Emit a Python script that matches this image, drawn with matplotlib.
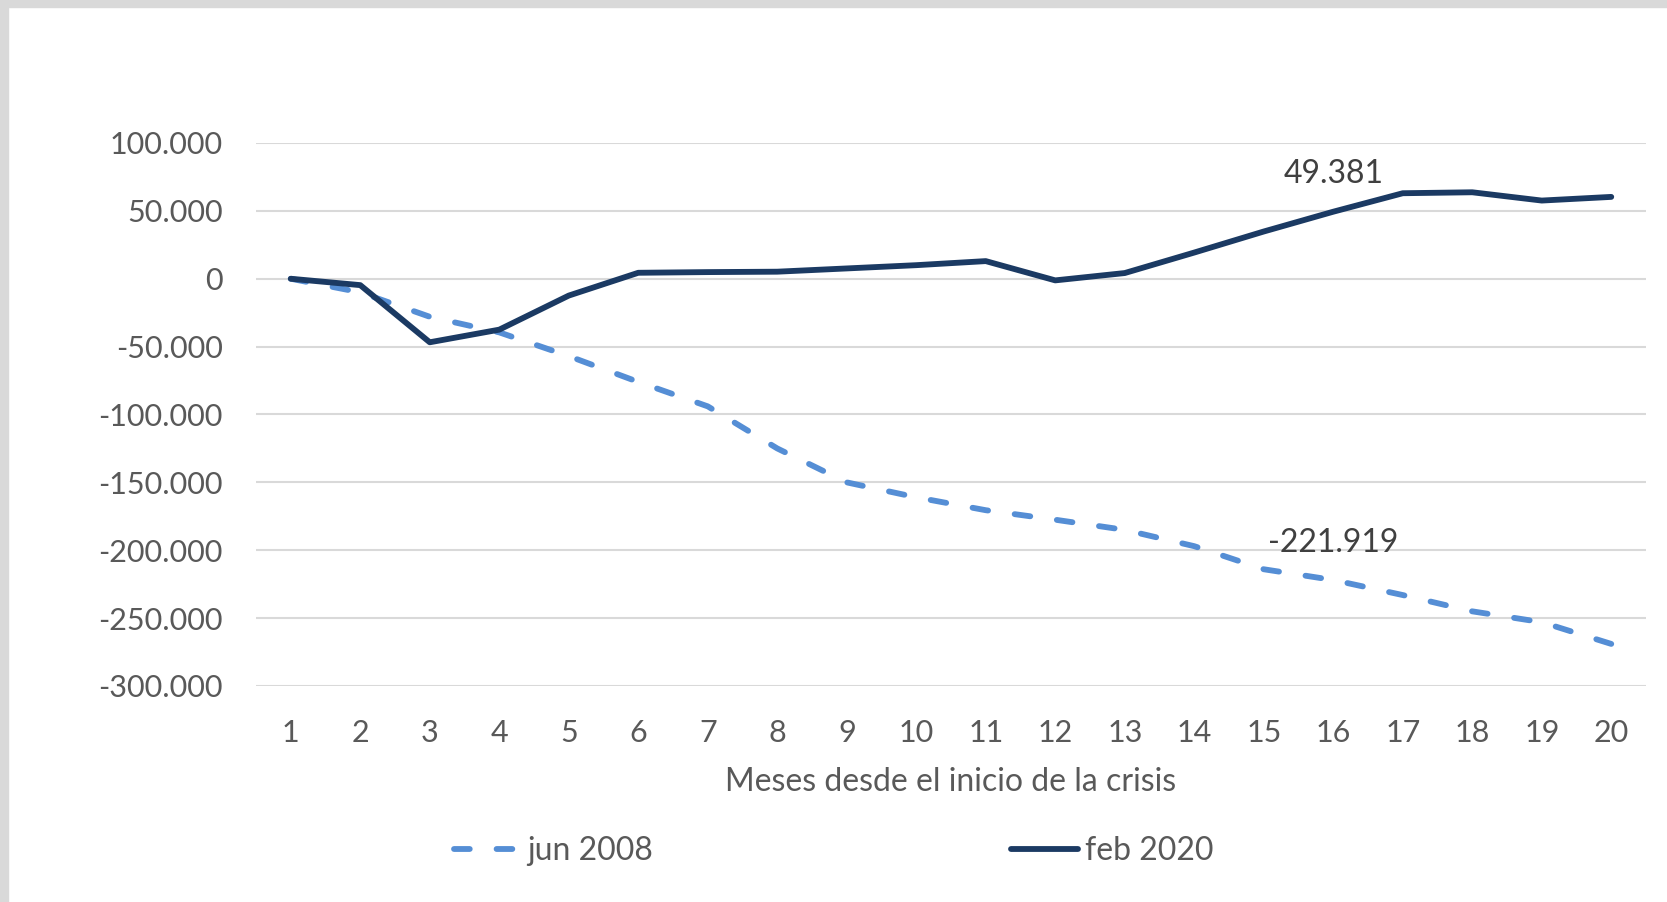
import matplotlib
matplotlib.use('Agg')
import matplotlib.pyplot as plt
import matplotlib.ticker as ticker
from matplotlib.patches import Rectangle

plt.rcParams['font.family'] = ['Lato', 'DejaVu Sans']

# months since start of crisis
months = list(range(1, 21))

# change in employment vs. start month
jun_2008 = [0, -10000, -28000, -39500, -57000, -76000, -94000, -125000, -150000, -161000,
            -170500, -177500, -185000, -197000, -214000, -221919, -233000, -245000, -253000, -269000]
feb_2020 = [0, -4700, -46800, -37500, -12400, 4400, 4900, 5200, 7600, 10000,
            13000, -1200, 4200, 19300, 34800, 49381, 63000, 63700, 57600, 60300]

label_idx = 15  # month 16 carries the data labels

y_ticks = [100000, 50000, 0, -50000, -100000, -150000, -200000, -250000, -300000]

W, H = 1667, 902
fig = plt.figure(figsize=(W / 100, H / 100), dpi=100)

# grey frame strips (top and left), as in the source screenshot
fig.patches.append(Rectangle((0, 1 - 7 / H), 1, 7 / H, transform=fig.transFigure,
                             color='#d9d9d9', zorder=0))
fig.patches.append(Rectangle((0, 0), 8 / W, 1, transform=fig.transFigure,
                             color='#d9d9d9', zorder=0))

ax = fig.add_axes([256 / W, 1 - 686 / H, (1646 - 256) / W, (686 - 143) / H])

light = '#558ED5'
dark = '#1B3A63'
txt = '#595959'

ax.plot(months, jun_2008, color=light, linewidth=4.2, dashes=(2.7, 4.6),
        dash_capstyle='round', dash_joinstyle='round', label='jun 2008', zorder=3)
ax.plot(months, feb_2020, color=dark, linewidth=4.2, solid_capstyle='round',
        solid_joinstyle='round', label='feb 2020', zorder=4)

fmt = lambda v: '{:,.0f}'.format(v).replace(',', '.')

for series in (feb_2020, jun_2008):
    ax.annotate(fmt(series[label_idx]), (months[label_idx], series[label_idx]),
                xytext=(0, 27), textcoords='offset points', ha='center', va='center',
                fontsize=23, color='#404040')

ax.set_xlim(0.5, 20.5)
ax.set_ylim(-300000, 100000)
ax.set_yticks(y_ticks)
ax.set_xticks(months)
ax.yaxis.set_major_formatter(ticker.FuncFormatter(lambda v, p: fmt(v)))
ax.grid(True, axis='y', color='#d9d9d9', linewidth=1.5)
ax.set_axisbelow(True)
for s in ax.spines.values():
    s.set_visible(False)
ax.tick_params(axis='both', length=0, labelsize=22, labelcolor=txt)
ax.tick_params(axis='y', pad=24)
ax.tick_params(axis='x', pad=24)

fig.text(951 / W, 1 - 782 / H, 'Meses desde el inicio de la crisis', ha='center',
         va='center', fontsize=23, color=txt)

leg = fig.legend(loc='center', bbox_to_anchor=(0.5, 1 - 851 / H), ncol=2, frameon=False,
                 fontsize=23, handlelength=2.1, handletextpad=0.2, columnspacing=11.2)
for t in leg.get_texts():
    t.set_color(txt)

fig.savefig('out.png', dpi=100)
